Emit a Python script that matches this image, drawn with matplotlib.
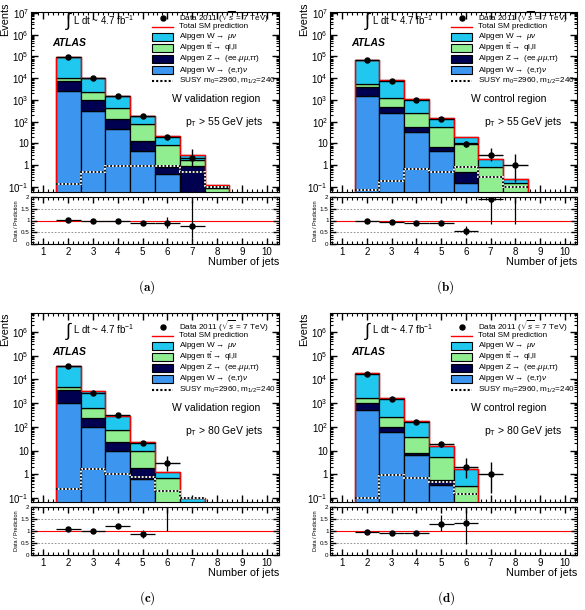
import numpy as np
import matplotlib
matplotlib.use("Agg")
import matplotlib.pyplot as plt
from matplotlib.patches import Rectangle
from matplotlib.lines import Line2D
from matplotlib.ticker import MultipleLocator, LogLocator, NullFormatter

plt.rcParams['font.family'] = ['Liberation Sans', 'DejaVu Sans']
plt.rcParams['mathtext.fontset'] = 'custom'
plt.rcParams['mathtext.rm'] = 'Liberation Sans'
plt.rcParams['mathtext.it'] = 'Liberation Sans:italic'
plt.rcParams['mathtext.bf'] = 'Liberation Sans:bold'

# jet multiplicity bins (2..10 jets)
njets = np.arange(2, 11)
edges = np.arange(1.5, 11.0, 1.0)

# ---- (a) W validation region, pT > 55 GeV ----
a_wet = [2600, 310, 46, 4.5, 0.39, 0, 0]
a_z = [5100, 640, 84, 8.2, 0.46, 0.95, 0]
a_tt = [2800, 1450, 310, 65, 7.8, 0.75, 0.09]
a_wmu = [84500, 8100, 1110, 102, 12.3, 1.2, 0.04]
a_susy = [0.14, 0.51, 0.95, 0.95, 0.9, 0.5, 0.1]
a_data = [9.5e4, 1.05e4, 1500, 175, 19, 2.2]
a_dlo = [300, 100, 40, 13, 4.4, 1.4]
a_dhi = [300, 100, 40, 13, 5.5, 3.5]
a_ratio = [1.03, 1.0, 1.0, 0.9, 0.88, 0.76]
a_rlo = [0.01, 0.01, 0.03, 0.07, 0.2, 0.5]
a_rhi = [0.01, 0.01, 0.03, 0.07, 0.25, 1.05]

# ---- (b) W control region, pT > 55 GeV ----
b_wet = [1600, 260, 33, 4.3, 0.15, 0, 0]
b_z = [2400, 210, 22, 2.5, 0.36, 0, 0]
b_tt = [1700, 770, 205, 48, 10, 0.85, 0.16]
b_wmu = [65300, 6660, 790, 100, 9, 1.05, 0.07]
b_susy = [0.07, 0.19, 0.65, 0.5, 0.85, 0.3, 0.1]
b_data = [7e4, 7700, 950, 140, 9.8, 3, 1]
b_dlo = [265, 88, 31, 12, 3.1, 1.5, 0.83]
b_dhi = [265, 88, 31, 12, 3.7, 2.9, 2.3]
b_ratio = [1.0, 0.93, 0.9, 0.9, 0.55, 1.9, 4.3]
b_rlo = [0.01, 0.01, 0.03, 0.08, 0.15, 1.05, 3.45]
b_rhi = [0.01, 0.01, 0.03, 0.08, 0.2, 1.5, 10]

# ---- (c) W validation region, pT > 80 GeV ----
c_wet = [1020, 94, 9.6, 0.65, 0, 0]
c_z = [2440, 141, 14.4, 1.25, 0, 0]
c_tt = [1340, 395, 51, 7.7, 0.7, 0]
c_wmu = [31200, 2620, 225, 14.4, 0.6, 0.1]
c_susy = [0.245, 1.74, 1.06, 0.76, 0.2, 0.1]
c_data = [3.8e4, 2800, 330, 21, 3]
c_dlo = [195, 53, 18, 4.6, 1.6]
c_dhi = [195, 53, 18, 4.6, 2.9]
c_ratio = [1.07, 0.98, 1.2, 0.88, 2.3]
c_rlo = [0.01, 0.02, 0.07, 0.17, 1.3]
c_rhi = [0.01, 0.02, 0.07, 0.17, 3.0]

# ---- (d) W control region, pT > 80 GeV ----
d_wet = [500, 60, 6.3, 0.34, 0, 0]
d_z = [500, 37, 1.6, 0.21, 0, 0]
d_tt = [660, 168, 29, 4.65, 0.33, 0]
d_wmu = [16940, 1395, 143, 9.8, 1.27, 0]
d_susy = [0.1, 0.95, 0.68, 0.48, 0.15]
d_data = [1.75e4, 1550, 165, 19, 2.1, 1]
d_dlo = [130, 39, 13, 4.3, 1.4, 0.83]
d_dhi = [130, 39, 13, 4.3, 2.8, 2.3]
d_ratio = [0.97, 0.92, 0.9, 1.28, 1.32]
d_rlo = [0.01, 0.02, 0.07, 0.3, 0.87]
d_rhi = [0.01, 0.02, 0.07, 0.38, 0.9]

leg_labels = [
    r'Data 2011 ($\sqrt{s}$ = 7 TeV)',
    'Total SM prediction',
    r'Alpgen W$\rightarrow$ $\mu\nu$',
    r'Alpgen t$\bar{\rm t}$$\rightarrow$ ql,ll',
    r'Alpgen Z$\rightarrow$ (ee,$\mu\mu$,$\tau\tau$)',
    r'Alpgen W$\rightarrow$ (e,$\tau$)$\nu$',
    r'SUSY m$_0$=2960, m$_{1/2}$=240',
]

C_WMU = '#20c8f0'
C_TT = '#90ee90'
C_Z = '#000050'
C_WET = '#3c96f0'


def pad(v):
    out = np.zeros(len(njets))
    out[:len(v)] = v
    return out


def draw(ax, rax, wet, z, tt, wmu, susy, data, dlo, dhi, ratio, rlo, rhi,
         region, ptcut, ylim, dec_labels, wpx, hpx, shift):
    bottom = np.zeros(len(njets))
    for vals, col in [(wet, C_WET), (z, C_Z), (tt, C_TT), (wmu, C_WMU)]:
        vals = pad(vals)
        m = vals > 0
        ax.bar(njets[m], vals[m], width=1.0, bottom=bottom[m], color=col,
               edgecolor='black', linewidth=0.9, zorder=2)
        bottom = bottom + vals
    last = np.nonzero(bottom)[0][-1] + 1
    ax.stairs(bottom[:last], edges[:last + 1], baseline=1e-4, color='red',
              lw=1.0, zorder=3)
    ns = len(susy)
    ax.stairs(susy, edges[:ns + 1], baseline=None, color='white', lw=1.3, zorder=4)
    ax.stairs(susy, edges[:ns + 1], baseline=None, color='black', lw=1.3,
              linestyle=(0, (1, 1)), zorder=5)
    nd = len(data)
    ax.errorbar(njets[:nd], data, xerr=0.5, yerr=[dlo, dhi], fmt='o',
                color='black', ms=3.6, lw=1, capsize=0, zorder=6)

    ax.set_yscale('log')
    ax.set_xlim(0.5, 10.5)
    ax.set_ylim(*ylim)
    ticks = [10.0 ** k for k in range(-1, len(dec_labels) - 1)]
    ax.set_yticks(ticks)
    ax.set_yticklabels(dec_labels)
    ax.yaxis.set_minor_locator(LogLocator(base=10, subs=np.arange(2, 10), numticks=20))
    ax.yaxis.set_minor_formatter(NullFormatter())
    ax.xaxis.set_major_locator(MultipleLocator(1))
    ax.xaxis.set_minor_locator(MultipleLocator(0.2))
    ax.tick_params(axis='x', labelbottom=False)
    ax.tick_params(which='both', direction='in', top=True, right=True, labelsize=7)
    ax.tick_params(axis='y', pad=1.5)
    ax.tick_params(which='major', length=5, width=1)
    ax.tick_params(which='minor', length=2.5, width=0.8)
    ax.set_ylabel('Events', fontsize=7.8, ha='right')
    ax.yaxis.set_label_coords(-0.085, 1.0 + (10 - shift * 1.25) / hpx)

    # helpers: pixel offsets from the axes' top-left corner
    def fx(px):
        return px / wpx

    def fy(px):
        return 1 - (px + shift) / hpx

    ax.text(fx(34), fy(-1.5), r'$\int$', transform=ax.transAxes, fontsize=13,
            va='top', ha='left')
    ax.text(fx(42), fy(8), r'L dt ~ 4.7 fb$^{-1}$', transform=ax.transAxes,
            fontsize=7, va='center', ha='left')
    ax.text(fx(21), fy(31), 'ATLAS', transform=ax.transAxes, fontsize=7.5,
            weight='bold', style='italic', va='center')
    ax.text(fx(141), fy(87), region, transform=ax.transAxes, fontsize=7.5,
            ha='left', va='center')
    ax.text(fx(154), fy(110), r'p$_{\rm T}$ > ' + ptcut + ' GeV jets',
            transform=ax.transAxes, fontsize=7.5, ha='left', va='center')

    # legend drawn row by row
    row_off = [5.5, 14.5, 24.5, 36, 46.5, 58, 69]
    x0, x1, xt = fx(121), fx(142), fx(148)
    bh = 8.0 / hpx
    kw = dict(transform=ax.transAxes, clip_on=False, zorder=10)
    for i, (off, lab) in enumerate(zip(row_off, leg_labels)):
        yc = fy(off)
        if i == 0:
            ax.add_line(Line2D([(x0 + x1) / 2], [yc], marker='o', ms=3.6,
                               color='black', ls='none', **kw))
        elif i == 1:
            ax.add_line(Line2D([x0, x1], [yc, yc], color='red', lw=1, **kw))
        elif i == 6:
            ax.add_line(Line2D([x0, x1], [yc, yc], color='black', lw=1.5,
                               ls=(0, (1, 1)), **kw))
        else:
            col = [C_WMU, C_TT, C_Z, C_WET][i - 2]
            ax.add_patch(Rectangle((x0, yc - bh / 2), x1 - x0, bh, facecolor=col,
                                   edgecolor='black', lw=0.8, **kw))
        ax.text(xt, yc, lab, transform=ax.transAxes, fontsize=5.9,
                va='center', ha='left', zorder=10)

    # ratio panel
    rax.axhline(1, color='red', lw=0.8, zorder=1)
    for yv in (0.5, 1.5):
        rax.axhline(yv, color='grey', ls=(0, (2, 2)), lw=0.6, zorder=1)
    nr = len(ratio)
    rax.errorbar(njets[:nr], ratio, xerr=0.5, yerr=[rlo, rhi], fmt='o',
                 color='black', ms=3.6, lw=0.9, capsize=0, zorder=3)
    rax.set_xlim(0.5, 10.5)
    rax.set_ylim(0, 2)
    rax.set_yticks([0, 0.5, 1, 1.5, 2])
    rax.set_yticklabels(['0', '0.5', '1', '1.5', '2'])
    rax.yaxis.set_minor_locator(MultipleLocator(0.1))
    rax.xaxis.set_major_locator(MultipleLocator(1))
    rax.xaxis.set_minor_locator(MultipleLocator(0.2))
    rax.tick_params(which='both', direction='in', top=True, right=True)
    rax.tick_params(axis='y', labelsize=4.5, pad=1)
    rax.tick_params(axis='x', labelsize=7, pad=2)
    rax.tick_params(which='major', length=4, width=1)
    rax.tick_params(which='minor', length=2, width=0.8)
    rax.set_ylabel('Data / Prediction', fontsize=4, labelpad=1)
    rax.set_xlabel('Number of jets', loc='right', fontsize=7.8, labelpad=0)


fig = plt.figure(figsize=(5.85, 6.10), dpi=100)
W, H = 585.0, 610.0


def axes_px(x0, y0, x1, y1):
    return fig.add_axes([x0 / W, 1 - y1 / H, (x1 - x0) / W, (y1 - y0) / H])


dec7 = [r'$10^{-1}$', '1', '10', r'$10^{2}$', r'$10^{3}$', r'$10^{4}$',
        r'$10^{5}$', r'$10^{6}$', r'$10^{7}$']
dec6 = dec7[:-1]

panels = [
    ((31, 12, 279, 192), (31, 197, 279, 244), 'a', (0.059, 1.1e7), dec7, 0,
     (a_wet, a_z, a_tt, a_wmu, a_susy, a_data, a_dlo, a_dhi, a_ratio, a_rlo, a_rhi),
     'W validation region', '55', 147),
    ((330, 12, 577, 192), (330, 197, 577, 244), 'b', (0.059, 1.1e7), dec7, 0,
     (b_wet, b_z, b_tt, b_wmu, b_susy, b_data, b_dlo, b_dhi, b_ratio, b_rlo, b_rhi),
     'W control region', '55', 445),
    ((31, 313, 279, 502), (31, 507, 279, 555), 'c', (0.068, 6.3e6), dec6, 8,
     (c_wet, c_z, c_tt, c_wmu, c_susy, c_data, c_dlo, c_dhi, c_ratio, c_rlo, c_rhi),
     'W validation region', '80', 147),
    ((330, 313, 577, 502), (330, 507, 577, 555), 'd', (0.068, 6.3e6), dec6, 8,
     (d_wet, d_z, d_tt, d_wmu, d_susy, d_data, d_dlo, d_dhi, d_ratio, d_rlo, d_rhi),
     'W control region', '80', 446),
]

for mainbox, ratiobox, tag, ylim, labs, shift, series, region, pt, xlab in panels:
    ax = axes_px(*mainbox)
    rax = axes_px(*ratiobox)
    wpx = mainbox[2] - mainbox[0]
    hpx = mainbox[3] - mainbox[1]
    draw(ax, rax, *series, region, pt, ylim, labs, wpx, hpx, shift)
    fig.text(xlab / W, 1 - (ratiobox[3] + 43) / H, r'$\mathbf{(' + tag + r')}$',
             math_fontfamily='cm', fontsize=9.5, ha='center', va='center')

fig.savefig('out.png', dpi=100)
